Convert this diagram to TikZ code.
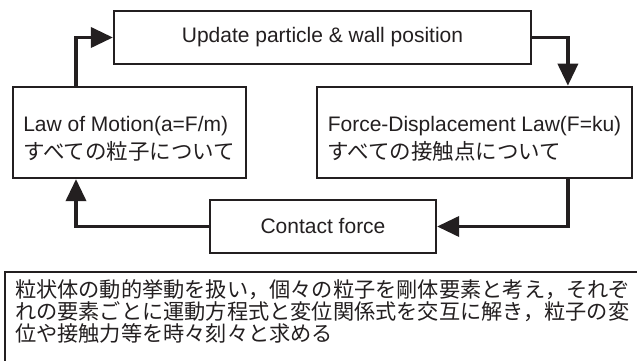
\documentclass[tikz,border=0pt]{standalone}
\usepackage{fontspec}
\setmainfont{Liberation Sans}
\newfontfamily\jp{Noto Sans CJK JP}
\usetikzlibrary{arrows.meta}
\definecolor{ink}{HTML}{231F20}
\newcommand{\lowered}[1]{\raisebox{-7.5pt}[\height][\depth]{\begin{tabular}{@{}l@{}}#1\end{tabular}}}
\newcommand{\jpbox}[1]{{\jp\fontsize{21.5}{28}\selectfont #1}}
\begin{document}
\begin{tikzpicture}[x=1pt,y=1pt,
  box/.style={draw=ink, line width=2.2pt, rectangle, inner sep=0pt, text=ink,
    font=\fontsize{21}{28}\selectfont, align=center},
  flow/.style={draw=ink, line width=3.6pt, line join=miter,
    -{Triangle[length=22pt,width=20pt]}},
  note/.style={inner sep=0pt, anchor=base west, text=ink,
    font=\jp\fontsize{21.2}{22}\selectfont}
]
\clip (0,0) rectangle (637,361);
\fill[white] (0,0) rectangle (637,361);

\node[box, minimum width=417pt, minimum height=53pt] (up) at (322.5,323.5)
  {Update particle \& wall position};
\node[box, minimum width=233pt, minimum height=91pt] (lm) at (129.3,228.5)
  {\lowered{Law of Motion(a=F/m)\\\jpbox{すべての粒子について}}};
\node[box, minimum width=315pt, minimum height=91pt] (fd) at (474.5,228.7)
  {\lowered{Force-Displacement Law(F=ku)\\\jpbox{すべての接触点について}}};
\node[box, minimum width=226pt, minimum height=53pt] (cf) at (323,134.5)
  {Contact force};

\draw[flow] ([xshift=64.3pt]lm.north west) |- (up.west);
\draw[flow] (up.east) -| ([xshift=252pt]fd.north west);
\draw[flow] ([xshift=252pt]fd.south west) |- (cf.east);
\draw[flow] (cf.west) -| ([xshift=64.3pt]lm.south west);

\draw[ink, line width=1.3pt] (5,89) rectangle (680,-30);
\node[note] (t1) at (15,63.5) {粒状体の動的挙動を扱い，個々の粒子を剛体要素と考え，それぞ};
\node[note] (t2) at (15,41.3) {れの要素ごとに運動方程式と変位関係式を交互に解き，粒子の変};
\node[note] (t3) at (15,19) {位や接触力等を時々刻々と求める};
\end{tikzpicture}
\end{document}
